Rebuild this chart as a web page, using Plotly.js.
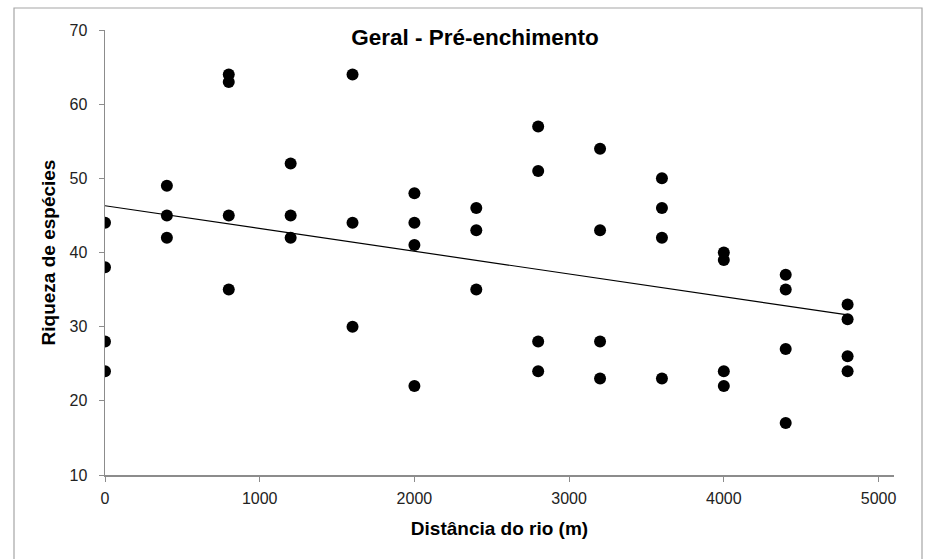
<!DOCTYPE html>
<html>
<head>
<meta charset="utf-8">
<script src="https://cdn.plot.ly/plotly-3.0.1.min.js"></script>
<style>
  html, body { margin: 0; padding: 0; background: #fff; }
  #chart { width: 927px; height: 559px; }
</style>
</head>
<body>
<div id="chart"></div>
<script>
// Distance from the river (m) of each sampling point
const distancia = [
  0, 0, 0, 0,
  400, 400, 400,
  800, 800, 800, 800,
  1200, 1200, 1200,
  1600, 1600, 1600,
  2000, 2000, 2000, 2000,
  2400, 2400, 2400,
  2800, 2800, 2800, 2800,
  3200, 3200, 3200, 3200,
  3600, 3600, 3600, 3600,
  4000, 4000, 4000, 4000,
  4400, 4400, 4400, 4400,
  4800, 4800, 4800, 4800
];

// Species richness recorded at each point
const riqueza = [
  44, 38, 28, 24,
  49, 45, 42,
  64, 63, 45, 35,
  52, 45, 42,
  64, 44, 30,
  48, 44, 41, 22,
  46, 43, 35,
  57, 51, 28, 24,
  54, 43, 28, 23,
  50, 46, 42, 23,
  40, 39, 24, 22,
  37, 35, 27, 17,
  33, 31, 26, 24
];

const xTicks = [0, 1000, 2000, 3000, 4000, 5000];
const yTicks = [10, 20, 30, 40, 50, 60, 70];

// Least-squares linear trend
const n = distancia.length;
const mx = distancia.reduce((a, b) => a + b, 0) / n;
const my = riqueza.reduce((a, b) => a + b, 0) / n;
let sxy = 0, sxx = 0;
for (let i = 0; i < n; i++) {
  sxy += (distancia[i] - mx) * (riqueza[i] - my);
  sxx += (distancia[i] - mx) ** 2;
}
const slope = sxy / sxx;
const intercept = my - slope * mx;
const xMin = Math.min(...distancia), xMax = Math.max(...distancia);
const trendX = [xMin, xMax];
const trendY = trendX.map(x => intercept + slope * x);

const font = 'Arial, "Liberation Sans", sans-serif';

const traces = [
  {
    x: trendX, y: trendY, type: 'scatter', mode: 'lines',
    line: { color: '#000', width: 1.2 }, hoverinfo: 'skip'
  },
  {
    x: distancia, y: riqueza, type: 'scatter', mode: 'markers',
    marker: { color: '#000', size: 12, line: { width: 0 } }
  }
];

const axisLine = '#8c8c8c';

const layout = {
  width: 927, height: 559,
  margin: { l: 105, r: 33, t: 30, b: 84 },
  paper_bgcolor: '#fff', plot_bgcolor: '#fff',
  showlegend: false,
  font: { family: font, color: '#000' },
  title: {
    text: '<b>Geral - Pré-enchimento</b>',
    font: { family: font, size: 22.5, color: '#000' },
    x: 475 / 927, xanchor: 'center', xref: 'container',
    y: 1 - 37 / 559, yanchor: 'middle', yref: 'container'
  },
  xaxis: {
    range: [0, 5100], tickvals: xTicks, ticktext: xTicks.map(String),
    showgrid: false, zeroline: false,
    showline: true, linecolor: axisLine, linewidth: 1.5,
    ticks: 'outside', ticklen: 5, tickcolor: axisLine, tickwidth: 1,
    ticklabelstandoff: 3,
    tickfont: { family: font, size: 16, color: '#222' },
    title: { text: '<b>Distância do rio (m)</b>', font: { family: font, size: 19, color: '#000' }, standoff: 16 }
  },
  yaxis: {
    range: [10, 70], tickvals: yTicks, ticktext: yTicks.map(String),
    showgrid: false, zeroline: false,
    showline: true, linecolor: axisLine, linewidth: 1.5,
    ticks: 'outside', ticklen: 5, tickcolor: axisLine, tickwidth: 1,
    ticklabelstandoff: 8,
    tickfont: { family: font, size: 16, color: '#222' },
    title: { text: '<b>Riqueza de espécies</b>', font: { family: font, size: 19, color: '#000' }, standoff: 9 }
  },
  shapes: [
    {
      type: 'rect', xref: 'paper', yref: 'paper',
      x0: (14 - 105) / 789, x1: (922 - 105) / 789,
      y0: (475 - 600) / 445, y1: (475 - 8) / 445,
      line: { color: '#a6a6a6', width: 1.2 }, fillcolor: 'rgba(0,0,0,0)', layer: 'below'
    }
  ]
};

Plotly.newPlot('chart', traces, layout, { displayModeBar: false, staticPlot: true });
</script>
</body>
</html>
